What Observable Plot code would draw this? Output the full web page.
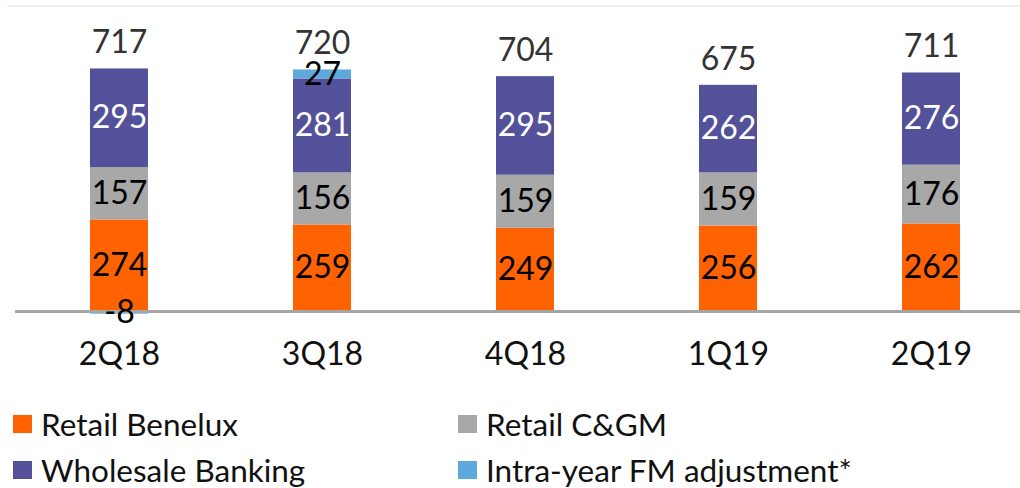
<!DOCTYPE html>
<html>
<head>
<meta charset="utf-8">
<script src="https://cdn.jsdelivr.net/npm/d3@7"></script>
<script src="https://cdn.jsdelivr.net/npm/@observablehq/plot@0.6"></script>
<style>
  body { margin: 0; background: #fff; font-family: Lato, "Noto Sans", sans-serif; }
  #topline { margin: 5px 0 0 7px; border-top: 2px solid #efefef; height: 0; }
  #chart svg { display: block; }
  #legend { display: grid; grid-template-columns: 445px auto; padding-left: 13px; margin-top: 14px; }
  .item { display: flex; align-items: center; height: 46px; font-size: 31.5px; color: #111; white-space: nowrap; }
  .sw { width: 19px; height: 18px; margin-right: 9px; flex: none; }
</style>
</head>
<body>
<div id="topline"></div>
<div id="chart"></div>
<div id="legend"></div>
<script>
const categories = ["2Q18", "3Q18", "4Q18", "1Q19", "2Q19"];
const retailBenelux = [274, 259, 249, 256, 262];
const retailCGM = [157, 156, 159, 159, 176];
const wholesaleBanking = [295, 281, 295, 262, 276];
const fmAdjustment = [-8, 27, null, null, null];
const totals = [717, 720, 704, 675, 711];
const seriesNames = ["Retail Benelux", "Retail C&GM", "Wholesale Banking", "Intra-year FM adjustment*"];
const seriesColors = ["#ff6200", "#a8a8a8", "#525199", "#5fa8dc"];
const labelColors = ["#000", "#000", "#fff", "#000"];

const seriesValues = [retailBenelux, retailCGM, wholesaleBanking, fmAdjustment];
const rows = [];
categories.forEach((cat, i) => {
  seriesValues.forEach((vals, s) => {
    if (vals[i] != null) rows.push({cat, series: seriesNames[s], value: vals[i], labelColor: labelColors[s]});
  });
});
const totalRows = categories.map((cat, i) => ({
  cat,
  top: seriesValues.reduce((a, vals) => a + (vals[i] != null && vals[i] > 0 ? vals[i] : 0), 0),
  label: String(totals[i])
}));

const chart = Plot.plot({
  width: 1020,
  height: 380,
  marginTop: 0,
  marginBottom: 76,
  marginLeft: 15,
  marginRight: 0,
  style: {fontFamily: "Lato, 'Noto Sans', sans-serif", background: "#fff"},
  x: {domain: categories, range: [47.25, 1001.75], paddingInner: 0.7153, paddingOuter: 0.2, axis: null},
  y: {domain: [0, 910], axis: null},
  color: {domain: seriesNames, range: seriesColors},
  marks: [
    Plot.barY(rows, {x: "cat", y: "value", fill: "series", z: "series", order: seriesNames}),
    Plot.ruleY([0], {stroke: "#a6a6a6", strokeWidth: 3}),
    Plot.text(rows, Plot.stackY({x: "cat", y: "value", z: "series", order: seriesNames, text: d => String(d.value), fill: "labelColor", fontSize: 32})),
    Plot.text(totalRows, {x: "cat", y: "top", text: "label", dy: -26, fill: "#333", fontSize: 32}),
    Plot.axisX({tickSize: 0, tickPadding: 31, fontSize: 32, fill: "#111", label: null})
  ]
});
document.getElementById("chart").appendChild(chart);

const legend = document.getElementById("legend");
seriesNames.forEach((name, s) => {
  const item = document.createElement("div");
  item.className = "item";
  const sw = document.createElement("span");
  sw.className = "sw";
  sw.style.background = seriesColors[s];
  const t = document.createElement("span");
  t.textContent = name;
  item.appendChild(sw);
  item.appendChild(t);
  legend.appendChild(item);
});
</script>
</body>
</html>
